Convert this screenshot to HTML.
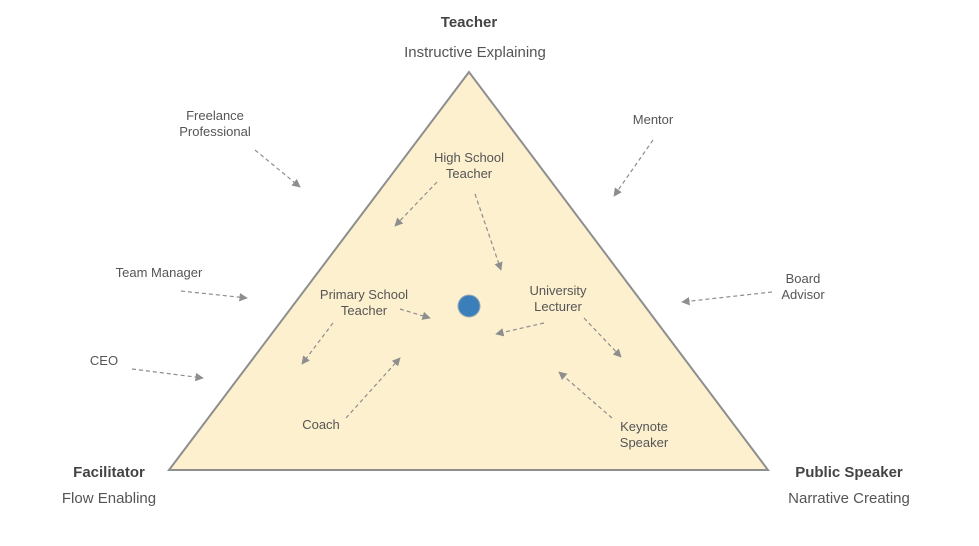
<!DOCTYPE html>
<html><head><style>body{margin:0;background:#fff}</style></head><body>
<svg width="979" height="541" xmlns="http://www.w3.org/2000/svg" font-family="Liberation Sans, sans-serif">
<defs><marker id="a" viewBox="0 0 10 10" refX="9" refY="5" markerWidth="7" markerHeight="7" orient="auto"><path d="M0,0L10,5L0,10z" fill="#8e8e8e"/></marker></defs>
<polygon points="469,72 169,470 768,470" fill="#fdf0cf" stroke="#8e8e8e" stroke-width="2"/>
<g stroke="#8e8e8e" stroke-width="1.2" stroke-dasharray="4,3" marker-end="url(#a)">
<line x1="255" y1="150" x2="300" y2="187"/>
<line x1="653" y1="140" x2="614" y2="196"/>
<line x1="437" y1="182" x2="395" y2="226"/>
<line x1="475" y1="194" x2="501" y2="270"/>
<line x1="181" y1="291" x2="247" y2="298"/>
<line x1="772" y1="292" x2="682" y2="302"/>
<line x1="132" y1="369" x2="203" y2="378"/>
<line x1="400" y1="309" x2="430" y2="318"/>
<line x1="333" y1="323" x2="302" y2="364"/>
<line x1="544" y1="323" x2="496" y2="334"/>
<line x1="584" y1="318" x2="621" y2="357"/>
<line x1="346" y1="418" x2="400" y2="358"/>
<line x1="612" y1="418" x2="559" y2="372"/>
</g>
<circle cx="469" cy="306" r="11" fill="#3a7fba" stroke="#9aa8b5" stroke-width="1"/>
<g fill="#555" font-size="13" text-anchor="middle">
<text x="215" y="120">Freelance</text><text x="215" y="136">Professional</text>
<text x="653" y="124">Mentor</text>
<text x="469" y="162">High School</text><text x="469" y="178">Teacher</text>
<text x="159" y="277">Team Manager</text>
<text x="803" y="283">Board</text><text x="803" y="299">Advisor</text>
<text x="364" y="299">Primary School</text><text x="364" y="315">Teacher</text>
<text x="558" y="295">University</text><text x="558" y="311">Lecturer</text>
<text x="104" y="365">CEO</text>
<text x="321" y="429">Coach</text>
<text x="644" y="431">Keynote</text><text x="644" y="447">Speaker</text>
</g>
<g fill="#444" text-anchor="middle">
<text x="469" y="27" font-size="15" font-weight="bold">Teacher</text>
<text x="475" y="57" font-size="15" fill="#555">Instructive Explaining</text>
<text x="109" y="477" font-size="15" font-weight="bold">Facilitator</text>
<text x="109" y="503" font-size="15" fill="#555">Flow Enabling</text>
<text x="849" y="477" font-size="15" font-weight="bold">Public Speaker</text>
<text x="849" y="503" font-size="15" fill="#555">Narrative Creating</text>
</g>
</svg>
</body></html>
